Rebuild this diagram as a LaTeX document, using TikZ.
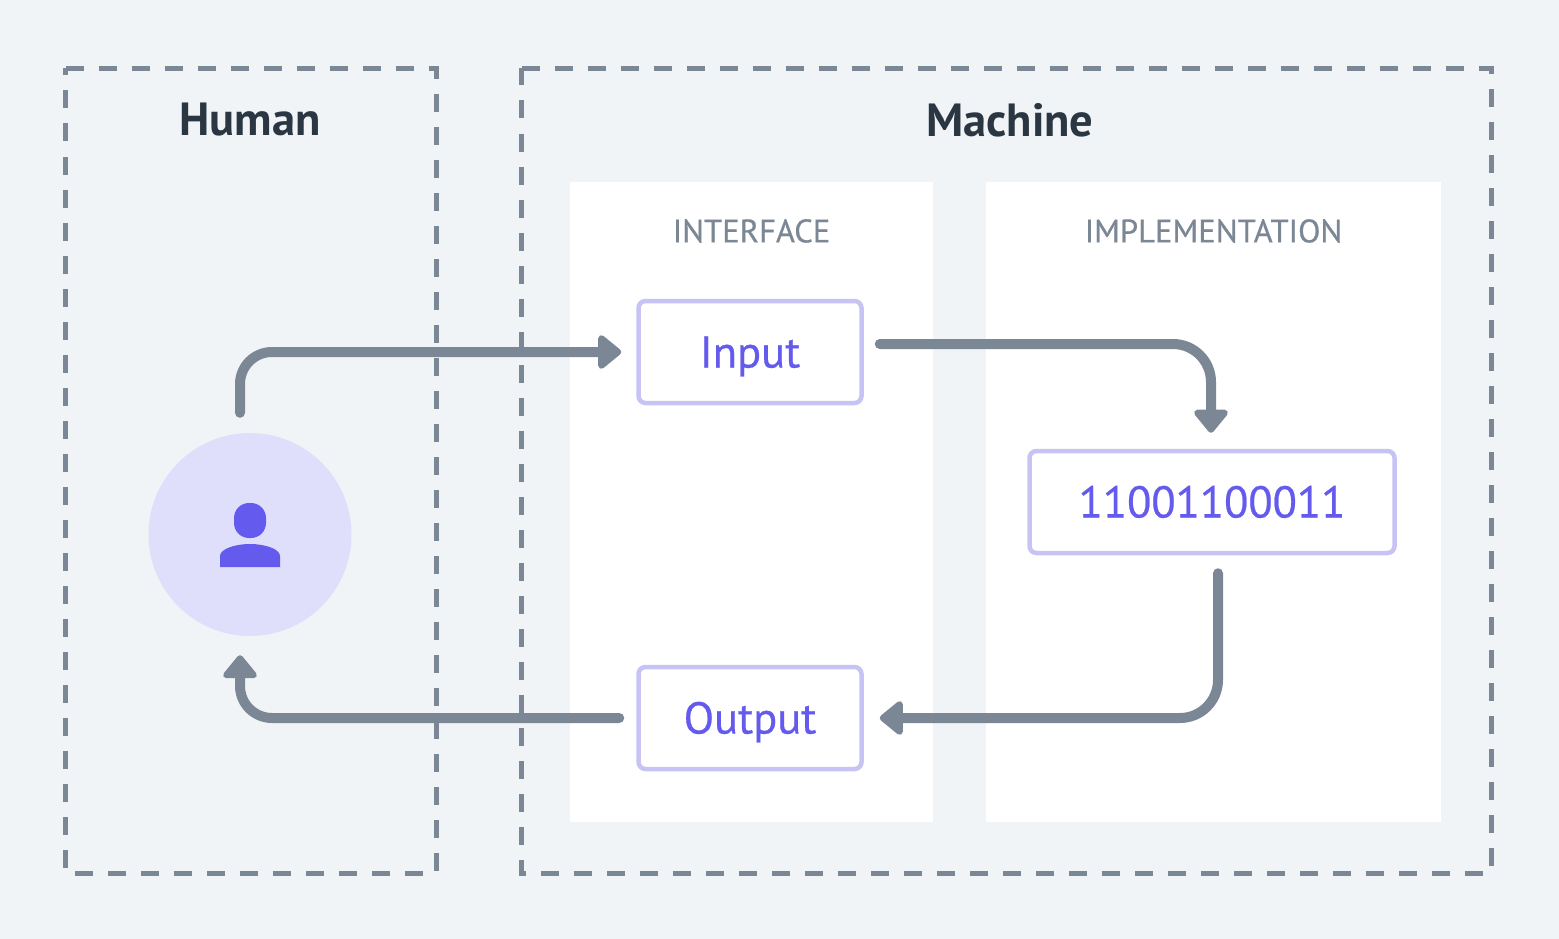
\documentclass[tikz,border=0pt]{standalone}
\usepackage{fontspec}
\setmainfont{PT Sans}
\newfontfamily\boxfont[FakeBold=0.5]{PT Sans}
\usetikzlibrary{arrows.meta,positioning}
\definecolor{pagebg}{HTML}{F0F4F7}
\definecolor{slate}{HTML}{7B8794}
\definecolor{ink}{HTML}{2A3642}
\definecolor{violet}{HTML}{645AEE}
\definecolor{paleviolet}{HTML}{C7C4F5}
\definecolor{disc}{HTML}{DFDEFB}
\tikzset{
  zone/.style={draw=slate,line width=5pt,dash pattern=on 18pt off 15pt},
  zonetitle/.style={text=ink,font=\bfseries\fontsize{46.5}{46.5}\selectfont},
  panel/.style={fill=white,draw=none,inner sep=0pt},
  paneltitle/.style={text=slate,font=\boxfont\fontsize{32.6}{33}\selectfont},
  valuebox/.style={
      draw=paleviolet,
      fill=white,
      line width=4.5pt,
      rounded corners=7pt,
      text=violet,
      inner sep=0pt,
      minimum height=102pt,
      text height=31pt,
      text depth=0pt,
      font=\boxfont\fontsize{44.5}{44}\selectfont
    },
  flow/.style={
      draw=slate,
      line width=10pt,
      line cap=round,
      -{Triangle[round,length=25pt,width=39pt]}
    }
}
\begin{document}
\begin{tikzpicture}[x=1pt,y=-1pt]
\useasboundingbox[fill=pagebg] (0,0) rectangle (1559,939);
% the shapes
\node[panel,minimum width=363pt,minimum height=640pt] at (751.5,502) (ifacepanel) {};
\node[panel,minimum width=455pt,minimum height=640pt] at (1213.5,502) (implpanel) {};
\draw[zone] (65.5,68.5) -- (436,68.5) -- (436,873) -- (65.5,873) -- cycle;
\draw[zone] (521.5,68.5) -- (1491,68.5) -- (1491,873) -- (521.5,873) -- cycle;
\node[zonetitle] at (250,120) (human) {Human};
\node[zonetitle] at (1010,120) (machine) {Machine};
\node[paneltitle] at (751.5,231) (iface) {INTERFACE};
\node[paneltitle] at (1213.5,231) (impl) {IMPLEMENTATION};
\node[valuebox,minimum width=223pt] at (750,352) (input) {Input};
\node[valuebox,minimum width=223pt] at (750,718) (output) {Output};
\node[valuebox,minimum width=365pt] at (1212,502) (bits) {11001100011};
\node[circle,fill=disc,inner sep=0pt,minimum size=203pt] at (250,534.5) (user) {};
% the person
\node[fill=violet,inner sep=0pt,minimum width=32pt,minimum height=35pt,rounded corners=15pt]
  at (250,520.5) (head) {};
\fill[violet] (220,567) -- (220,556)
  .. controls (220,549) and (235,544) .. (250,544)
  .. controls (265,544) and (280,549) .. (280,556) -- (280,567) -- cycle;

%the arrows
\draw[flow,rounded corners=32pt]
  ([xshift=-10pt,yshift=20pt]user.north) |- ([xshift=-15pt]input.west);
\draw[flow,rounded corners=38pt]
  ([xshift=16pt,yshift=8pt]input.east) -| ([xshift=-1pt,yshift=16pt]bits.north);
\draw[flow,rounded corners=38pt]
  ([xshift=6pt,yshift=-18pt]bits.south) |- ([xshift=16pt]output.east);
\draw[flow,rounded corners=32pt]
  ([xshift=-17pt]output.west) -| ([xshift=-10pt,yshift=-19pt]user.south);
\end{tikzpicture}
\end{document}
